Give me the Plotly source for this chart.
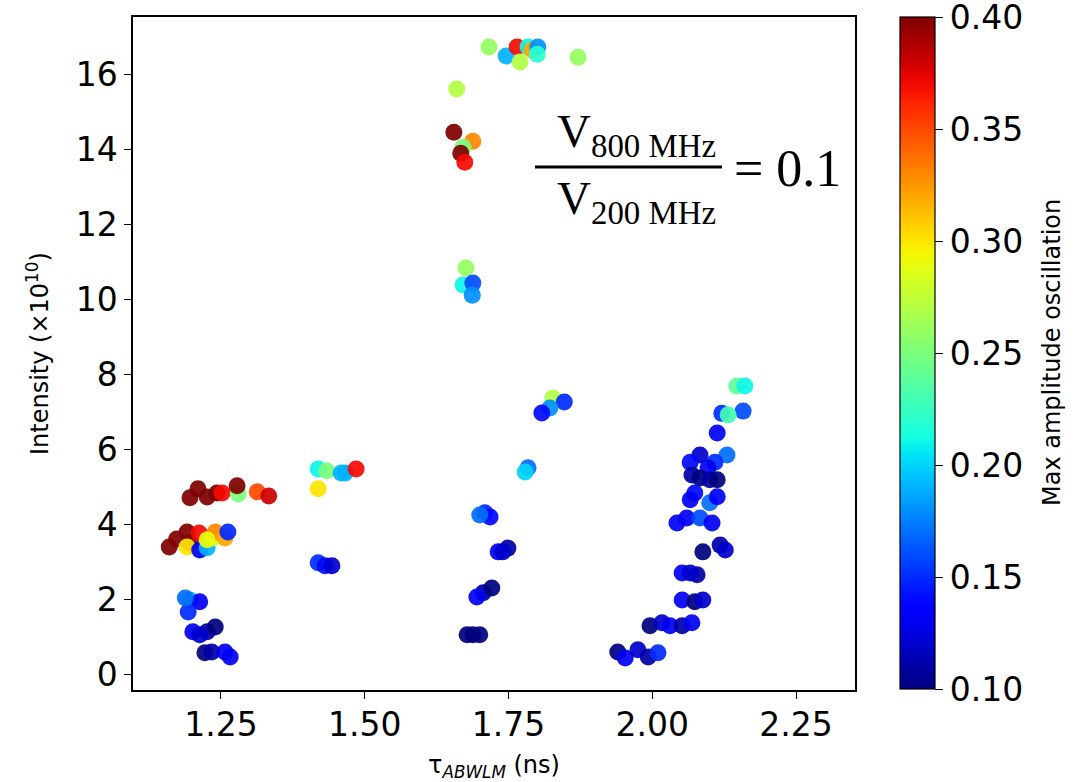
import numpy as np
import plotly.graph_objects as go

# ---- data ----
tau = [
    # 1.2-1.33 cluster, ~4.8
    1.196, 1.210, 1.226, 1.243, 1.252, 1.280, 1.278, 1.313, 1.333,
    # ~3.5
    1.160, 1.173, 1.191, 1.196, 1.191, 1.212, 1.213, 1.226, 1.236, 1.240, 1.257, 1.262, 1.226,
    # ~1.8
    1.196, 1.213, 1.193, 1.188,
    # ~1.2
    1.201, 1.226, 1.240, 1.213,
    # ~0.6
    1.222, 1.234, 1.257, 1.266,
    # 1.42-1.49
    1.419, 1.434, 1.466, 1.459, 1.485, 1.419,
    1.419, 1.431, 1.443,
    # middle column
    1.827, 1.847, 1.822, 1.808, 1.784, 1.779, 1.709, 1.718, 1.700,
    1.732, 1.749, 1.740, 1.706, 1.721, 1.695, 1.688, 1.678, 1.700,
    # top
    1.716, 1.746, 1.765, 1.770, 1.784, 1.791, 1.801, 1.800, 1.871, 1.660,
    1.655, 1.688, 1.671, 1.667, 1.674,
    1.676, 1.671, 1.688, 1.687,
    # right column
    2.147, 2.161, 2.158, 2.121, 2.132, 2.113, 2.130, 2.083, 2.066, 2.109,
    2.097, 2.069, 2.083, 2.100, 2.113, 2.074, 2.066, 2.100, 2.113,
    2.043, 2.060, 2.083, 2.104,
    2.088, 2.118, 2.127, 2.052, 2.078, 2.066, 2.052, 2.074, 2.088,
    1.996, 2.017, 2.031, 2.052, 2.069,
    1.940, 1.953, 1.975, 1.993, 2.010,
]
intensity = [
    4.71, 4.95, 4.73, 4.84, 4.84, 4.81, 5.03, 4.87, 4.76,
    3.40, 3.61, 3.80, 3.51, 3.40, 3.77, 3.32, 3.38, 3.64, 3.80, 3.64, 3.80, 3.59,
    1.99, 1.94, 1.67, 2.04,
    1.14, 1.14, 1.27, 1.06,
    0.58, 0.60, 0.60, 0.47,
    5.48, 5.43, 5.37, 5.37, 5.48, 4.95,
    2.98, 2.90, 2.90,
    7.37, 7.26, 7.10, 6.97, 5.51, 5.40, 4.31, 4.20, 4.25,
    3.27, 3.37, 3.27, 2.18, 2.31, 2.07, 1.06, 1.06, 1.06,
    16.72, 16.48, 16.72, 16.32, 16.72, 16.64, 16.72, 16.53, 16.45, 15.60,
    14.45, 14.21, 14.05, 13.89, 13.65,
    10.83, 10.38, 10.43, 10.11,
    7.69, 7.69, 7.02, 6.96, 6.92, 6.44, 5.85, 5.85, 5.66, 5.66,
    5.51, 5.32, 5.24, 5.19, 5.19, 4.84, 4.66, 4.58, 4.74,
    4.04, 4.17, 4.17, 4.04,
    3.27, 3.45, 3.32, 2.71, 2.66, 2.71, 1.99, 1.94, 1.99,
    1.30, 1.38, 1.30, 1.30, 1.38,
    0.60, 0.44, 0.66, 0.47, 0.58,
]
amplitude = [
    0.40, 0.40, 0.40, 0.40, 0.37, 0.25, 0.40, 0.35, 0.38,
    0.40, 0.40, 0.40, 0.40, 0.30, 0.37, 0.13, 0.19, 0.28, 0.33, 0.32, 0.15, 0.29,
    0.19, 0.13, 0.15, 0.17,
    0.13, 0.11, 0.10, 0.12,
    0.10, 0.11, 0.13, 0.13,
    0.21, 0.25, 0.19, 0.19, 0.37, 0.30,
    0.15, 0.14, 0.12,
    0.27, 0.15, 0.18, 0.14, 0.17, 0.20, 0.15, 0.14, 0.17,
    0.13, 0.11, 0.12, 0.11, 0.10, 0.13, 0.10, 0.10, 0.10,
    0.26, 0.19, 0.37, 0.27, 0.21, 0.32, 0.18, 0.22, 0.26, 0.27,
    0.40, 0.33, 0.25, 0.40, 0.37,
    0.26, 0.21, 0.16, 0.18,
    0.24, 0.21, 0.16, 0.15, 0.23, 0.13, 0.17, 0.12, 0.14, 0.15,
    0.13, 0.11, 0.10, 0.11, 0.10, 0.14, 0.13, 0.17, 0.13,
    0.13, 0.13, 0.16, 0.13,
    0.10, 0.11, 0.12, 0.13, 0.11, 0.12, 0.13, 0.10, 0.12,
    0.10, 0.12, 0.13, 0.11, 0.13,
    0.10, 0.13, 0.12, 0.11, 0.15,
]
cbar_ticks = [0.10, 0.15, 0.20, 0.25, 0.30, 0.35, 0.40]
x_ticks = [1.25, 1.50, 1.75, 2.00, 2.25]
y_ticks = [0, 2, 4, 6, 8, 10, 12, 14, 16]

# ---- matplotlib "jet" colormap ----
_r = ([0, 0.35, 0.66, 0.89, 1], [0, 0, 1, 1, 0.5])
_g = ([0, 0.125, 0.375, 0.64, 0.91, 1], [0, 0, 1, 1, 0, 0])
_b = ([0, 0.11, 0.34, 0.65, 1], [0.5, 1, 1, 0, 0])
stops = np.linspace(0, 1, 41)
jet = []
for s in stops:
    r = np.interp(s, *_r); g = np.interp(s, *_g); b = np.interp(s, *_b)
    jet.append([float(s), f"rgb({int(r*255)},{int(g*255)},{int(b*255)})"])

W, H = 1089, 782
L, R, T, B = 133, 855, 17, 690

def px(xp):
    return (xp - L) / (R - L)

def py(yp):
    return (B - yp) / (B - T)

FONT = "DejaVu Sans"
PAD = 10
fig = go.Figure()
fig.add_trace(go.Scatter(
    x=tau, y=intensity, mode="markers",
    marker=dict(size=17, color=amplitude, colorscale=jet, cmin=0.10, cmax=0.40,
                opacity=0.92, line=dict(width=0),
                colorbar=dict(
                    x=px(900), xanchor="left", y=py(689 + PAD), yanchor="bottom",
                    len=(689 - 17 + 2 * PAD) / (B - T), lenmode="fraction",
                    thickness=35, thicknessmode="pixels", xpad=0, ypad=PAD,
                    outlinewidth=1.2, outlinecolor="black",
                    tickvals=cbar_ticks, ticktext=[f"{v:.2f}" for v in cbar_ticks],
                    ticks="outside", ticklen=8, tickwidth=1.2, tickcolor="black",
                    ticklabeloverflow="allow",
                    tickfont=dict(family=FONT, size=33, color="black"),
                )),
    showlegend=False,
))

fig.update_layout(
    width=W, height=H,
    margin=dict(l=L, r=W - R, t=T, b=H - B, autoexpand=False),
    paper_bgcolor="white", plot_bgcolor="white",
    font=dict(family=FONT, color="black"),
    xaxis=dict(range=[1.097, 2.3526], tickvals=x_ticks, ticktext=[f"{v:.2f}" for v in x_ticks],
               showgrid=False, zeroline=False, showline=True, linecolor="black", linewidth=1.5,
               mirror=True, ticks="outside", ticklen=7, tickwidth=1.3, tickcolor="black",
               tickfont=dict(family=FONT, size=33), ticklabelstandoff=-2),
    yaxis=dict(range=[-0.41, 17.52], tickvals=y_ticks, ticktext=[str(v) for v in y_ticks],
               showgrid=False, zeroline=False, showline=True, linecolor="black", linewidth=1.5,
               mirror=True, ticks="outside", ticklen=7, tickwidth=1.3, tickcolor="black",
               tickfont=dict(family=FONT, size=33)),
)

# axis titles as annotations (exact placement)
fig.add_annotation(xref="paper", yref="paper", x=px(494), y=py(766), xanchor="center", yanchor="middle",
                   text="τ<sub><i>ABWLM</i></sub> (ns)", showarrow=False,
                   font=dict(family=FONT, size=24, color="black"))
fig.add_annotation(xref="paper", yref="paper", x=px(38), y=py(354), xanchor="center", yanchor="middle",
                   text="Intensity (×10<sup>10</sup>)", showarrow=False, textangle=-90,
                   font=dict(family=FONT, size=24, color="black"))
fig.add_annotation(xref="paper", yref="paper", x=px(1052), y=py(353), xanchor="center", yanchor="middle",
                   text="Max amplitude oscillation", showarrow=False, textangle=-90,
                   font=dict(family=FONT, size=24, color="black"))

SERIF = "Liberation Serif"
fig.add_annotation(xref="paper", yref="paper", x=px(636), y=py(166), xanchor="center", yanchor="bottom",
                   text="V<sub>800 MHz</sub>", showarrow=False,
                   font=dict(family=SERIF, size=47, color="black"))
fig.add_annotation(xref="paper", yref="paper", x=px(636), y=py(170), xanchor="center", yanchor="top",
                   text="V<sub>200 MHz</sub>", showarrow=False,
                   font=dict(family=SERIF, size=47, color="black"))
fig.add_annotation(xref="paper", yref="paper", x=px(732), y=py(168), xanchor="left", yanchor="middle",
                   text="= 0.1", showarrow=False,
                   font=dict(family=SERIF, size=52, color="black"))
fig.add_shape(type="line", xref="paper", yref="paper", x0=px(535), x1=px(722), y0=py(167), y1=py(167),
              line=dict(color="black", width=3))

fig.write_html("out.html", config={"displayModeBar": False},
               post_script="document.body.style.margin='0';document.body.style.padding='0';")
